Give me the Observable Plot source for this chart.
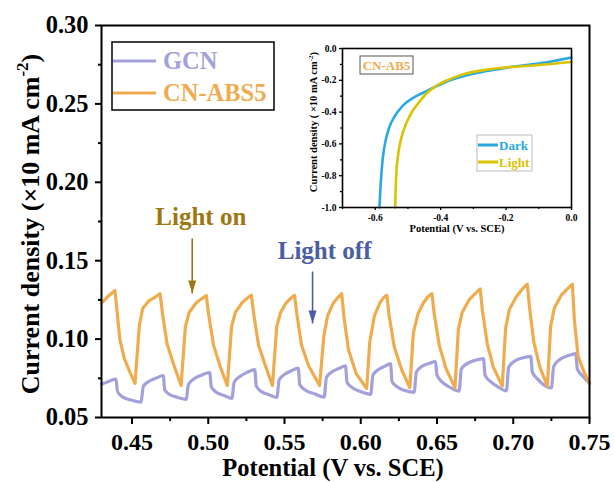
<!DOCTYPE html>
<html>
<head>
<meta charset="utf-8">
<script src="https://cdn.jsdelivr.net/npm/d3@7"></script>
<script src="https://cdn.jsdelivr.net/npm/@observablehq/plot@0.6"></script>
<style>
  html, body { margin: 0; padding: 0; background: white; }
  #wrap { position: relative; width: 615px; height: 482px; overflow: hidden; }
  #wrap svg { position: absolute; background: transparent; }
</style>
</head>
<body>
<div id="wrap"></div>
<script>
// ---------- Main chart data (Potential V vs SCE, current density x10 mA cm-2) ----------
const absV = [0.4300,0.4340,0.4388,0.4402,0.4420,0.4450,0.4490,0.4520,
0.4548,0.4570,0.4612,0.4655,0.4684,0.4699,0.4730,0.4776,0.4822,
0.4850,0.4875,0.4920,0.4960,0.4987,0.5002,0.5035,0.5080,0.5125,
0.5153,0.5178,0.5220,0.5255,0.5283,0.5298,0.5330,0.5375,0.5421,
0.5449,0.5474,0.5510,0.5540,0.5566,0.5581,0.5612,0.5658,0.5730,
0.5758,0.5783,0.5820,0.5850,0.5875,0.5890,0.5920,0.5970,0.6039,
0.6059,0.6090,0.6125,0.6150,0.6171,0.6186,0.6220,0.6270,0.6322,
0.6345,0.6375,0.6410,0.6440,0.6467,0.6482,0.6515,0.6560,0.6618,
0.6640,0.6665,0.6710,0.6750,0.6783,0.6798,0.6830,0.6870,0.6928,
0.6950,0.6975,0.7020,0.7060,0.7092,0.7107,0.7135,0.7175,0.7224,
0.7245,0.7270,0.7315,0.7355,0.7388,0.7400,0.7425,0.7460,0.7500];
const absJ = [0.123,0.127,0.131,0.118,0.100,0.0876,0.078,0.0718,
0.1087,0.1195,0.1246,0.127,0.129,0.117,0.097,0.083,0.0704,
0.108,0.117,0.123,0.126,0.1278,0.116,0.096,0.082,0.0704,
0.108,0.117,0.123,0.126,0.128,0.116,0.096,0.083,0.0704,
0.108,0.117,0.123,0.126,0.128,0.116,0.096,0.083,0.0704,
0.102,0.115,0.123,0.1265,0.129,0.114,0.093,0.078,0.0685,
0.098,0.115,0.123,0.1265,0.128,0.115,0.095,0.080,0.069,
0.104,0.116,0.123,0.127,0.129,0.116,0.096,0.081,0.069,
0.106,0.117,0.125,0.129,0.132,0.118,0.097,0.082,0.070,
0.107,0.119,0.127,0.132,0.135,0.120,0.098,0.082,0.070,
0.108,0.120,0.128,0.132,0.135,0.113,0.089,0.080,0.0717];

const gcnV = [0.4300,0.4360,0.4395,0.4405,0.4440,0.4500,0.4558,
0.4575,0.4610,0.4660,0.4705,0.4715,0.4750,0.4800,0.4855,
0.4870,0.4905,0.4955,0.5010,0.5020,0.5055,0.5105,0.5155,
0.5170,0.5205,0.5255,0.5305,0.5315,0.5350,0.5400,0.5450,
0.5465,0.5500,0.5545,0.5590,0.5600,0.5635,0.5700,0.5760,
0.5775,0.5810,0.5855,0.5900,0.5910,0.5945,0.6000,0.6065,
0.6080,0.6115,0.6160,0.6195,0.6205,0.6240,0.6290,0.6350,
0.6365,0.6400,0.6450,0.6490,0.6500,0.6535,0.6590,0.6645,
0.6660,0.6700,0.6750,0.6805,0.6815,0.6850,0.6900,0.6955,
0.6970,0.7010,0.7060,0.7115,0.7125,0.7160,0.7205,0.7250,
0.7265,0.7305,0.7360,0.7410,0.7420,0.7450,0.7500];
const gcnJ = [0.0712,0.0735,0.0745,0.0665,0.0630,0.0610,0.0598,
0.0700,0.0730,0.0752,0.0768,0.0675,0.0645,0.0628,0.0615,
0.0710,0.0745,0.0770,0.0787,0.0695,0.0660,0.0640,0.0622,
0.0725,0.0760,0.0788,0.0805,0.0700,0.0665,0.0645,0.0628,
0.0740,0.0775,0.0798,0.0815,0.0710,0.0675,0.0650,0.0630,
0.0755,0.0790,0.0812,0.0830,0.0725,0.0690,0.0665,0.0648,
0.0770,0.0805,0.0828,0.0844,0.0730,0.0695,0.0672,0.0660,
0.0790,0.0825,0.0845,0.0857,0.0770,0.0725,0.0690,0.0668,
0.0810,0.0845,0.0865,0.0876,0.0770,0.0730,0.0695,0.0670,
0.0820,0.0860,0.0880,0.0890,0.0790,0.0745,0.0705,0.0688,
0.0825,0.0870,0.0895,0.0908,0.0810,0.0770,0.0720];

const seriesNames = ["GCN", "CN-ABS5"];
const xTicks = [0.45, 0.50, 0.55, 0.60, 0.65, 0.70, 0.75];
const xMinor = [0.475, 0.525, 0.575, 0.625, 0.675, 0.725];
const yTicks = [0.05, 0.10, 0.15, 0.20, 0.25, 0.30];
const yMinor = [0.075, 0.125, 0.175, 0.225, 0.275];

// annotations (data units)
const notes = [
  {label: "Light on",  tx: 0.4951, ty: 0.1779, ax: 0.4895, y1: 0.1642, y2: 0.1291, color: "#9e7712"},
  {label: "Light off", tx: 0.5763, ty: 0.1565, ax: 0.5684, y1: 0.1431, y2: 0.1100, color: "#4b5ea3"}
];

// ---------- Inset data (LSV) ----------
const darkV = [-0.587,-0.584,-0.580,-0.575,-0.566,-0.552,-0.532,-0.505,-0.475,-0.440,-0.400,-0.360,-0.320,-0.280,-0.230,-0.180,-0.130,-0.080,-0.040,0.000];
const darkJ = [-1.00,-0.88,-0.76,-0.66,-0.56,-0.47,-0.40,-0.34,-0.30,-0.265,-0.225,-0.192,-0.168,-0.150,-0.132,-0.115,-0.102,-0.088,-0.073,-0.057];
const lightV = [-0.539,-0.537,-0.534,-0.528,-0.520,-0.505,-0.485,-0.465,-0.440,-0.420,-0.400,-0.380,-0.340,-0.300,-0.260,-0.210,-0.160,-0.110,-0.060,0.000];
const lightJ = [-1.00,-0.86,-0.74,-0.64,-0.56,-0.47,-0.39,-0.335,-0.277,-0.245,-0.218,-0.200,-0.168,-0.147,-0.133,-0.121,-0.113,-0.105,-0.097,-0.085];
const insetNames = ["Dark", "Light"];
const inXTicks = [-0.6, -0.4, -0.2, 0.0];
const inXMinor = [-0.7, -0.5, -0.3, -0.1];
const inYTicks = [-1.0, -0.8, -0.6, -0.4, -0.2, 0.0];
const inYMinor = [-0.9, -0.7, -0.5, -0.3, -0.1];

const C_GCN = "#a3a1da", C_ABS = "#efac4f", C_DARK = "#28a9e1", C_LIGHT = "#d9c300";
const FONT = "'Liberation Serif', 'Times New Roman', serif";

const gcn = gcnV.map((v, i) => ({v, j: gcnJ[i]}));
const abs = absV.map((v, i) => ({v, j: absJ[i]}));
const dark = darkV.map((v, i) => ({v, j: darkJ[i]}));
const light = lightV.map((v, i) => ({v, j: lightJ[i]}));

const headDown = {draw(ctx) { ctx.moveTo(-4, -13); ctx.lineTo(4, -13); ctx.lineTo(0, 0); ctx.closePath(); }};

const main = Plot.plot({
  width: 615, height: 482,
  marginLeft: 101, marginRight: 26, marginTop: 25, marginBottom: 65,
  style: {fontFamily: FONT, background: "transparent"},
  x: {domain: [0.43, 0.75]},
  y: {domain: [0.05, 0.30]},
  marks: [
    Plot.line(gcn, {x: "v", y: "j", stroke: C_GCN, strokeWidth: 3.2, curve: "monotone-x"}),
    Plot.line(abs, {x: "v", y: "j", stroke: C_ABS, strokeWidth: 3.2}),
    Plot.axisX(xTicks, {tickSize: 7, tickPadding: 8, strokeWidth: 2, fontSize: 24, fontWeight: "bold", fill: "black", tickFormat: d => d.toFixed(2), label: null}),
    Plot.axisX(xMinor, {tickSize: 4, strokeWidth: 2, text: null, label: null}),
    Plot.axisY(yTicks, {tickSize: 6, tickPadding: 7, strokeWidth: 2, fontSize: 24.5, fontWeight: "bold", fill: "black", tickFormat: d => d.toFixed(2), label: null}),
    Plot.axisY(yMinor, {tickSize: 3, strokeWidth: 2, text: null, label: null}),
    Plot.frame({stroke: "black", strokeWidth: 2}),
    Plot.link(notes, {x1: "ax", x2: "ax", y1: "y1", y2: "y2", stroke: "color", strokeWidth: 1.6}),
    Plot.dot(notes, {x: "ax", y: "y2", symbol: headDown, fill: "color", stroke: null, r: 5}),
    Plot.text(notes, {x: "tx", y: "ty", text: "label", fill: "color", fontSize: 25, fontWeight: "bold", fontFamily: FONT})
  ]
});
const wrap = document.getElementById("wrap");
main.style.left = "0px"; main.style.top = "0px";
wrap.appendChild(main);

const ms = d3.select(main);
// axis titles
ms.append("text").attr("x", 333).attr("y", 476).attr("text-anchor", "middle")
  .attr("font-family", FONT).attr("font-weight", "bold").attr("font-size", 24.5).attr("fill", "black")
  .text("Potential (V vs. SCE)");
const yl = ms.append("text").attr("transform", "translate(39,224) rotate(-90)").attr("text-anchor", "middle")
  .attr("font-family", FONT).attr("font-weight", "bold").attr("font-size", 26).attr("fill", "black");
yl.append("tspan").text("Current density (×10 mA cm");
yl.append("tspan").attr("dy", -11).attr("font-size", 17).text("-2");
yl.append("tspan").attr("dy", 11).text(")");
// legend
const lg = ms.append("g");
lg.append("rect").attr("x", 112).attr("y", 42).attr("width", 162).attr("height", 68)
  .attr("fill", "white").attr("stroke", "black").attr("stroke-width", 1.5);
[[seriesNames[0], C_GCN, 61], [seriesNames[1], C_ABS, 93]].forEach(([name, c, y]) => {
  lg.append("line").attr("x1", 113).attr("x2", 156).attr("y1", y).attr("y2", y).attr("stroke", c).attr("stroke-width", 3.2);
  lg.append("text").attr("x", 163).attr("y", y + 8).attr("text-anchor", "start").attr("font-family", FONT).attr("font-weight", "bold")
    .attr("font-size", 24.5).attr("fill", c).text(name);
});

// ---------- Inset ----------
const fmt1 = d => (d < 0 ? "-" : "") + Math.abs(d).toFixed(1);
const inset = Plot.plot({
  width: 290, height: 205,
  marginLeft: 47, marginRight: 14, marginTop: 13, marginBottom: 33,
  style: {fontFamily: FONT, background: "transparent"},
  x: {domain: [-0.7, 0]},
  y: {domain: [-1, 0]},
  marks: [
    Plot.line(dark, {x: "v", y: "j", stroke: C_DARK, strokeWidth: 2.6, curve: "monotone-y"}),
    Plot.line(light, {x: "v", y: "j", stroke: C_LIGHT, strokeWidth: 2.6, curve: "monotone-y"}),
    Plot.axisX(inXTicks, {tickSize: 3, tickPadding: 4, strokeWidth: 1.3, fontSize: 9.5, fontWeight: "bold", fill: "black", tickFormat: fmt1, label: null}),
    Plot.axisX(inXMinor, {tickSize: 2, strokeWidth: 1.2, text: null, label: null}),
    Plot.axisY(inYTicks, {tickSize: 3, tickPadding: 3, strokeWidth: 1.3, fontSize: 9.5, fontWeight: "bold", fill: "black", tickFormat: fmt1, label: null}),
    Plot.axisY(inYMinor, {tickSize: 2, strokeWidth: 1.2, text: null, label: null}),
    Plot.frame({stroke: "black", strokeWidth: 1.6})
  ]
});
inset.style.left = "295px"; inset.style.top = "35px";
wrap.appendChild(inset);
const is = d3.select(inset);
is.append("text").attr("x", 162).attr("y", 197).attr("text-anchor", "middle")
  .attr("font-family", FONT).attr("font-weight", "bold").attr("font-size", 10.5).attr("fill", "black")
  .text("Potential (V vs. SCE)");
const iyl = is.append("text").attr("transform", "translate(22,87) rotate(-90)").attr("text-anchor", "middle")
  .attr("font-family", FONT).attr("font-weight", "bold").attr("font-size", 10.5).attr("fill", "black");
iyl.append("tspan").text("Current density ( ×10 mA cm");
iyl.append("tspan").attr("dy", -4).attr("font-size", 7).text("-2");
iyl.append("tspan").attr("dy", 4).text(")");
// sample tag
is.append("rect").attr("x", 65).attr("y", 21).attr("width", 53).attr("height", 18)
  .attr("fill", "white").attr("stroke", "#555").attr("stroke-width", 1);
is.append("text").attr("x", 91.5).attr("y", 35).attr("text-anchor", "middle")
  .attr("font-family", FONT).attr("font-weight", "bold").attr("font-size", 13).attr("fill", C_ABS).text("CN-AB5");
// inset legend
is.append("rect").attr("x", 182).attr("y", 100).attr("width", 55).attr("height", 36)
  .attr("fill", "white").attr("stroke", "#bbb").attr("stroke-width", 1);
[[insetNames[0], C_DARK, 110], [insetNames[1], C_LIGHT, 127]].forEach(([name, c, y]) => {
  is.append("line").attr("x1", 183).attr("x2", 203).attr("y1", y).attr("y2", y).attr("stroke", c).attr("stroke-width", 3);
  is.append("text").attr("x", 204).attr("y", y + 4.5).attr("text-anchor", "start").attr("font-family", FONT).attr("font-weight", "bold")
    .attr("font-size", 13).attr("fill", c).text(name);
});
</script>
</body>
</html>
